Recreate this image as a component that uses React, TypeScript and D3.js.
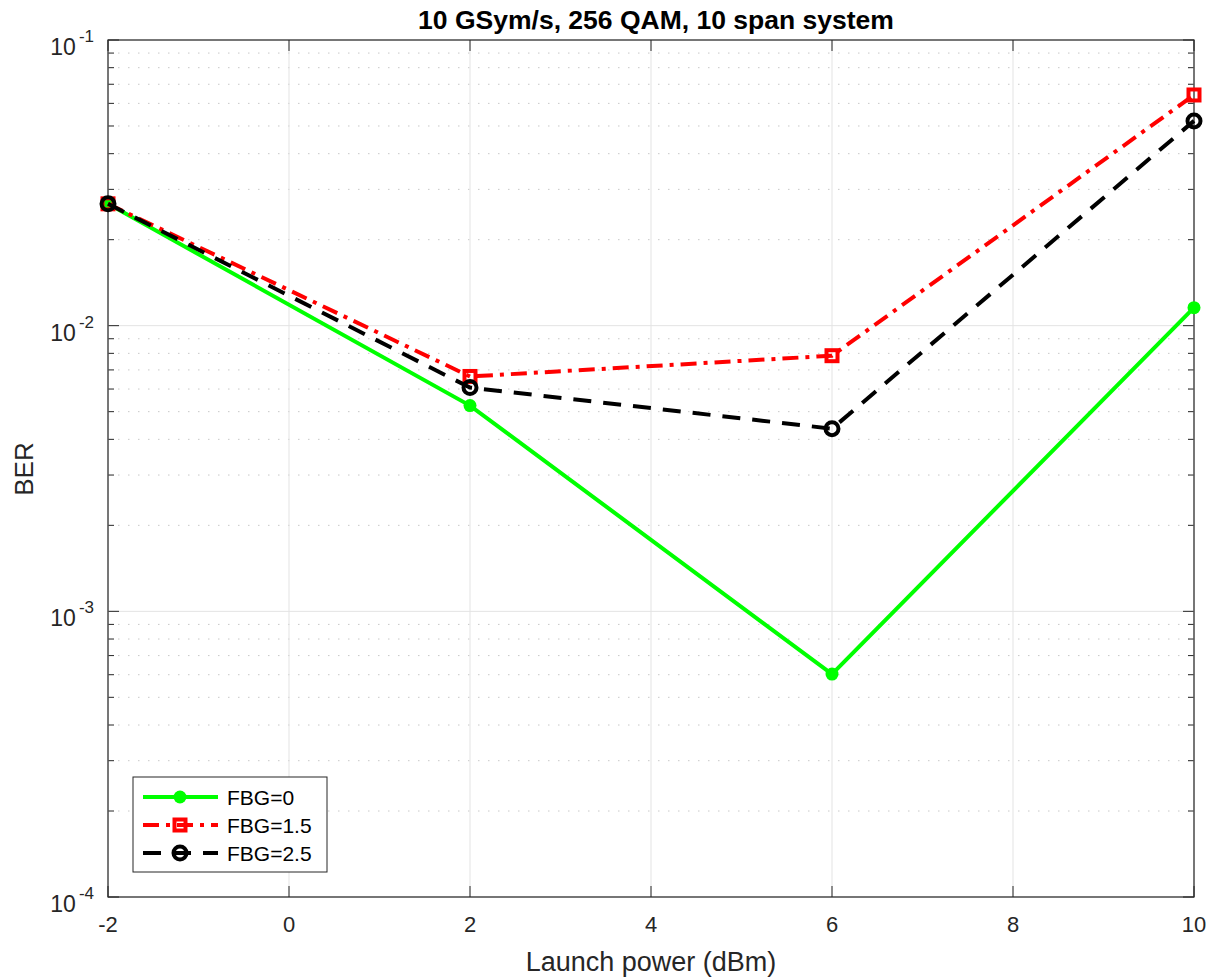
import React, { useEffect, useRef } from "react";
import * as d3 from "d3";

const launchPower = [-2, 2, 6, 10];
const berFbg0 = [0.0267, 0.00525, 0.000603, 0.01156];
const berFbg15 = [0.0267, 0.00664, 0.00785, 0.0642];
const berFbg25 = [0.0267, 0.00607, 0.00436, 0.0521];
const xTicks = [-2, 0, 2, 4, 6, 8, 10];
const yDecades = [-4, -3, -2, -1];

const series = [
  { name: "FBG=0", values: berFbg0, color: "#00ff00", dash: "none", marker: "dot" },
  { name: "FBG=1.5", values: berFbg15, color: "#ff0000", dash: "16,7,4,7", marker: "square" },
  { name: "FBG=2.5", values: berFbg25, color: "#000000", dash: "18,12", marker: "circle" },
];

const W = 1212;
const H = 977;
const m = { left: 108, right: 1194, top: 40, bottom: 897 };
const font = "Liberation Sans, Arial, sans-serif";

const App = () => {
  const ref = useRef(null);

  useEffect(() => {
    const svg = d3.select(ref.current);
    svg.selectAll("*").remove();

    const x = d3.scaleLinear().domain([-2, 10]).range([m.left, m.right]);
    const y = d3.scaleLog().domain([1e-4, 1e-1]).range([m.bottom, m.top]);

    svg.append("rect").attr("width", W).attr("height", H).attr("fill", "#fff");

    const grid = svg.append("g");
    // minor grid (dotted) + minor ticks
    const minors = [];
    for (let d = -4; d < -1; d++) {
      for (let k = 2; k <= 9; k++) minors.push(k * Math.pow(10, d));
    }
    minors.forEach((v) => {
      grid.append("line")
        .attr("x1", m.left).attr("x2", m.right)
        .attr("y1", y(v)).attr("y2", y(v))
        .attr("stroke", "#c8c8c8").attr("stroke-width", 1)
        .attr("stroke-dasharray", "1.5,8.5");
      grid.append("line").attr("x1", m.left).attr("x2", m.left + 6)
        .attr("y1", y(v)).attr("y2", y(v)).attr("stroke", "#262626");
      grid.append("line").attr("x1", m.right).attr("x2", m.right - 6)
        .attr("y1", y(v)).attr("y2", y(v)).attr("stroke", "#262626");
    });
    yDecades.forEach((d) => {
      const v = Math.pow(10, d);
      grid.append("line")
        .attr("x1", m.left).attr("x2", m.right)
        .attr("y1", y(v)).attr("y2", y(v))
        .attr("stroke", "#e3e3e3");
      grid.append("line").attr("x1", m.left).attr("x2", m.left + 11)
        .attr("y1", y(v)).attr("y2", y(v)).attr("stroke", "#262626");
      grid.append("line").attr("x1", m.right).attr("x2", m.right - 11)
        .attr("y1", y(v)).attr("y2", y(v)).attr("stroke", "#262626");
      const t = svg.append("text")
        .attr("x", m.left - 14).attr("y", y(v) + 15)
        .attr("text-anchor", "end")
        .attr("font-family", font)
        .attr("font-size", 23).attr("fill", "#262626");
      t.append("tspan").text("10");
      t.append("tspan").attr("dx", 3).attr("dy", -13).attr("font-size", 17).text(String(d));
    });
    xTicks.forEach((v) => {
      grid.append("line")
        .attr("x1", x(v)).attr("x2", x(v))
        .attr("y1", m.top).attr("y2", m.bottom)
        .attr("stroke", "#e3e3e3");
      grid.append("line").attr("x1", x(v)).attr("x2", x(v))
        .attr("y1", m.bottom).attr("y2", m.bottom - 11).attr("stroke", "#262626");
      grid.append("line").attr("x1", x(v)).attr("x2", x(v))
        .attr("y1", m.top).attr("y2", m.top + 11).attr("stroke", "#262626");
      svg.append("text")
        .attr("x", x(v)).attr("y", m.bottom + 35)
        .attr("text-anchor", "middle")
        .attr("font-family", font)
        .attr("font-size", 22).attr("fill", "#262626")
        .text(String(v));
    });

    svg.append("rect")
      .attr("x", m.left).attr("y", m.top)
      .attr("width", m.right - m.left).attr("height", m.bottom - m.top)
      .attr("fill", "none").attr("stroke", "#262626").attr("stroke-width", 1.2);

    const line = d3.line().x((d) => x(d[0])).y((d) => y(d[1]));

    const drawMarker = (g, s, cx, cy) => {
      if (s.marker === "dot") {
        g.append("circle").attr("cx", cx).attr("cy", cy).attr("r", 6.5).attr("fill", s.color);
      } else if (s.marker === "square") {
        g.append("rect").attr("x", cx - 5.5).attr("y", cy - 5.5)
          .attr("width", 11).attr("height", 11)
          .attr("fill", "none").attr("stroke", s.color).attr("stroke-width", 4);
      } else {
        g.append("circle").attr("cx", cx).attr("cy", cy).attr("r", 6.5)
          .attr("fill", "none").attr("stroke", s.color).attr("stroke-width", 4);
      }
    };

    series.forEach((s) => {
      const pts = launchPower.map((p, i) => [p, s.values[i]]);
      const g = svg.append("g");
      g.append("path").attr("d", line(pts))
        .attr("fill", "none").attr("stroke", s.color).attr("stroke-width", 4)
        .attr("stroke-dasharray", s.dash);
      pts.forEach((p) => drawMarker(g, s, x(p[0]), y(p[1])));
    });

    // legend
    const lg = svg.append("g");
    lg.append("rect").attr("x", 133).attr("y", 777).attr("width", 194).attr("height", 95)
      .attr("fill", "#fff").attr("stroke", "#262626").attr("stroke-width", 1);
    series.forEach((s, i) => {
      const ly = 797 + i * 28;
      lg.append("line").attr("x1", 143).attr("x2", 218).attr("y1", ly).attr("y2", ly)
        .attr("stroke", s.color).attr("stroke-width", 4)
        .attr("stroke-dasharray", s.marker === "square" ? "16,7,4,7" : s.dash === "none" ? "none" : "18,12");
      drawMarker(lg, s, 180, ly);
      lg.append("text").attr("x", 227).attr("y", ly + 8)
        .attr("font-family", font)
        .attr("font-size", 21).attr("fill", "#000").text(s.name);
    });

    svg.append("text").attr("x", 656).attr("y", 29)
      .attr("text-anchor", "middle").attr("font-weight", "bold")
      .attr("font-family", font)
      .attr("font-size", 26.5).attr("fill", "#000")
      .text("10 GSym/s, 256 QAM, 10 span system");
    svg.append("text").attr("x", 651).attr("y", 971)
      .attr("text-anchor", "middle")
      .attr("font-family", font)
      .attr("font-size", 27).attr("fill", "#262626")
      .text("Launch power (dBm)");
    svg.append("text")
      .attr("transform", `translate(33,${469}) rotate(-90)`)
      .attr("text-anchor", "middle")
      .attr("font-family", font)
      .attr("font-size", 26).attr("fill", "#262626")
      .text("BER");
  }, []);

  return <svg ref={ref} width={W} height={H} style={{ position: "absolute", left: 0, top: 0 }} />;
};

export default App;
